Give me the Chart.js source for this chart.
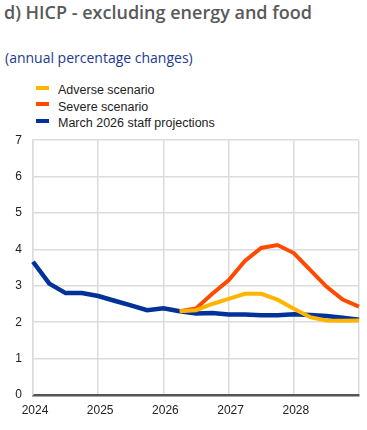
<!DOCTYPE html>
<html>
<head>
<meta charset="utf-8">
<script src="https://cdn.jsdelivr.net/npm/chart.js@4.4.1/dist/chart.umd.min.js"></script>
<style>
  body { margin: 0; width: 367px; height: 430px; background: #fff; position: relative; overflow: hidden; }
  #title { position: absolute; left: 4px; top: 0px; font-family: "Open Sans", sans-serif; font-weight: 600; font-size: 18px; color: #595959; white-space: nowrap; }
  #subtitle { position: absolute; left: 5px; top: 48px; font-family: "Open Sans", sans-serif; font-size: 14px; color: #1b3a93; white-space: nowrap; }
  #legend { position: absolute; left: 36px; top: 82px; font-family: "Liberation Sans", Arial, sans-serif; font-size: 12.5px; color: #222; }
  .item { height: 16.5px; line-height: 16.5px; white-space: nowrap; }
  .swatch { display: inline-block; width: 13px; height: 4px; vertical-align: middle; margin-right: 9px; position: relative; top: -3px; }
  #wrap { position: absolute; left: 0; top: 122px; width: 367px; height: 308px; }
</style>
</head>
<body>
<div id="title">d) HICP - excluding energy and food</div>
<div id="subtitle">(annual percentage changes)</div>
<div id="legend"></div>
<div id="wrap"><canvas id="hicpChart"></canvas></div>
<script>
// Quarters 2023Q4 .. 2028Q4
const quarters = ["2023Q4",
    "2024Q1", "2024Q2", "2024Q3", "2024Q4",
    "2025Q1", "2025Q2", "2025Q3", "2025Q4",
    "2026Q1", "2026Q2", "2026Q3", "2026Q4",
    "2027Q1", "2027Q2", "2027Q3", "2027Q4",
    "2028Q1", "2028Q2", "2028Q3", "2028Q4"];
const yearLabels = ["2024", "2025", "2026", "2027", "2028"];

const adverse = [null, null, null, null, null, null, null, null, null,
    2.30, 2.33, 2.50, 2.64, 2.78, 2.78, 2.62, 2.37, 2.14, 2.05, 2.04, 2.05];
const severe = [null, null, null, null, null, null, null, null, null,
    2.30, 2.38, 2.78, 3.15, 3.68, 4.04, 4.12, 3.90, 3.44, 2.98, 2.62, 2.43];
const baseline = [3.66, 3.06, 2.80, 2.80, 2.72, 2.59, 2.46, 2.33, 2.38, 2.30, 2.24,
    2.25, 2.21, 2.21, 2.19, 2.19, 2.22, 2.20, 2.17, 2.12, 2.07];

const yTicks = [0, 1, 2, 3, 4, 5, 6, 7];

const series = [
    { label: "Adverse scenario", data: adverse, color: "#FFB400", width: 4 },
    { label: "Severe scenario", data: severe, color: "#FF4B00", width: 4 },
    { label: "March 2026 staff projections", data: baseline, color: "#003299", width: 4.5 },
];

// legend
const legend = document.getElementById("legend");
series.forEach(s => {
    const row = document.createElement("div");
    row.className = "item";
    row.innerHTML = `<span class="swatch" style="background:${s.color}"></span>${s.label}`;
    legend.appendChild(row);
});

const config = {
    type: "line",
    data: {
        labels: quarters,
        datasets: series.map(s => ({
            label: s.label,
            data: s.data,
            borderColor: s.color,
            backgroundColor: s.color,
            borderWidth: s.width,
            pointRadius: 0,
            tension: 0,
            spanGaps: false,
        })),
    },
    options: {
        responsive: true,
        maintainAspectRatio: false,
        animation: false,
        layout: { padding: { top: 6, right: 7, left: 0, bottom: 0 } },
        plugins: {
            legend: { display: false },
            tooltip: { enabled: false },
        },
        scales: {
            x: {
                offset: false,
                grid: {
                    color: ctx => (ctx.index % 4 === 0 ? "#dcdcdc" : "rgba(0,0,0,0)"),
                    lineWidth: 1.5,
                    drawTicks: false,
                },
                border: { color: "#555", width: 2.5 },
                ticks: {
                    autoSkip: false,
                    maxRotation: 0,
                    padding: 8,
                    color: "#222",
                    font: { family: "'Liberation Sans', Arial", size: 12 },
                    labelOffset: 2,
                    callback: (v, i) => (i % 4 === 0 && i / 4 < yearLabels.length ? yearLabels[i / 4] : ""),
                },
                afterFit: s => { s.height = 35; },
            },
            y: {
                min: 0,
                max: 7,
                afterBuildTicks: s => { s.ticks = yTicks.map(v => ({ value: v })); },
                grid: { color: "#dcdcdc", lineWidth: 1.5, drawTicks: false },
                border: { color: "#dcdcdc", width: 1.5 },
                ticks: {
                    padding: 11,
                    color: "#222",
                    font: { family: "'Liberation Sans', Arial", size: 12 },
                },
                afterFit: s => { s.width = 33; },
            },
        },
    },
};

const ctx = document.getElementById("hicpChart").getContext("2d");
const hicpChart = new Chart(ctx, config);
</script>
</body>
</html>
